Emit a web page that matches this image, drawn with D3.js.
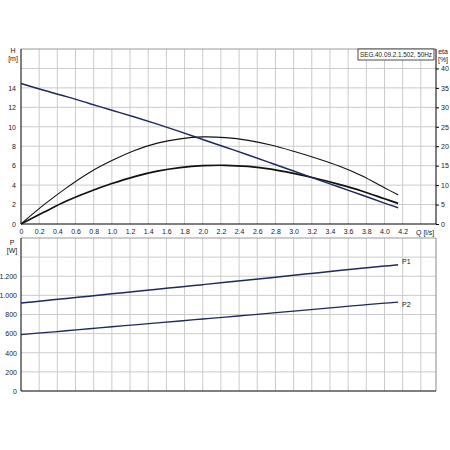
<!DOCTYPE html>
<html>
<head>
<meta charset="utf-8">
<script src="https://cdn.jsdelivr.net/npm/d3@7"></script>
<style>
  body { margin: 0; background: #fff; }
  text { font-family: "Liberation Sans", Arial, sans-serif; font-size: 7px; fill: #1a1a1a; }
  .grid line { stroke: #cbcbcb; stroke-width: 1; }
</style>
</head>
<body>
<svg id="chart" width="450" height="450"></svg>
<script>
// flow points (l/s) for the curves
const flow = [0, 0.25, 0.5, 0.75, 1.0, 1.25, 1.5, 1.75, 2.0, 2.25, 2.5, 2.75, 3.0, 3.25, 3.5, 3.75, 4.0, 4.15]
// head H [m]
const head = [14.45, 13.75, 13.1, 12.4, 11.7, 11.0, 10.27, 9.5, 8.7, 7.9, 7.1, 6.28, 5.45, 4.62, 3.8, 2.98, 2.15, 1.68]
// pump efficiency [%]
const etaPump = [0, 4.9, 9.3, 13.2, 16.3, 18.9, 20.8, 21.9, 22.4, 22.2, 21.5, 20.3, 18.7, 16.9, 14.9, 12.4, 9.3, 7.5]
// total efficiency [%]
const etaTotal = [0, 3.0, 5.9, 8.3, 10.4, 12.2, 13.6, 14.5, 15.0, 15.1, 14.8, 14.1, 13.0, 11.7, 10.2, 8.5, 6.5, 5.3]
// power [W]
const p1 = [920, 944, 968, 992, 1016, 1040, 1064, 1088, 1112, 1136, 1160, 1185, 1210, 1235, 1260, 1284, 1306, 1320]
const p2 = [590, 610, 630, 651, 672, 692, 712, 732, 753, 773, 794, 815, 836, 857, 878, 898, 918, 930]

const qTicks = [0, 0.2, 0.4, 0.6, 0.8, 1.0, 1.2, 1.4, 1.6, 1.8, 2.0, 2.2, 2.4, 2.6, 2.8, 3.0, 3.2, 3.4, 3.6, 3.8, 4.0, 4.2]
const qGrid = qTicks.concat([4.4])
const hTicks = [0, 2, 4, 6, 8, 10, 12, 14]
const hGrid = [2, 4, 6, 8, 10, 12, 14, 16]
const etaTicks = [0, 5, 10, 15, 20, 25, 30, 35, 40]
const pTicks = [0, 200, 400, 600, 800, 1000, 1200]
const pGrid = [200, 400, 600, 800, 1000, 1200, 1400]
const title = 'SEG.40.09.2.1.502, 50Hz'

const svg = d3.select('#chart')
const left = 21
const right = 436

const x = d3.scaleLinear().domain([0, 4.567]).range([left, right])
const yH = d3.scaleLinear().domain([0, 18]).range([224, 49])
const yEta = d3.scaleLinear().domain([0, 45]).range([224, 49])
const yP = d3.scaleLinear().domain([0, 1600]).range([391, 238])

const qFormat = d => d === 0 ? '0' : d3.format('.1f')(d)
const pFormat = d3.formatLocale({ decimal: ',', thousands: '.', grouping: [3], currency: ['', ''] }).format(',d')

/**
 * Draws the grid and the light top border of one panel.
 */
function drawPanel (y, yGrid, top, bottom) {
  const g = svg.append('g').attr('class', 'grid')
  g.selectAll('line.v').data(qGrid.filter(d => d > 0)).join('line')
    .attr('class', 'v')
    .attr('x1', d => x(d)).attr('x2', d => x(d))
    .attr('y1', top).attr('y2', bottom)
  g.selectAll('line.h').data(yGrid).join('line')
    .attr('class', 'h')
    .attr('x1', left).attr('x2', right)
    .attr('y1', d => y(d)).attr('y2', d => y(d))
  svg.append('line')
    .attr('x1', left).attr('x2', right).attr('y1', top).attr('y2', top)
    .attr('stroke', '#9a9a9a')
}

drawPanel(yH, hGrid, 49, 224)
drawPanel(yP, pGrid, 238, 391)

// bottom panel right border
svg.append('line')
  .attr('x1', right).attr('x2', right).attr('y1', 238).attr('y2', 391)
  .attr('stroke', '#8a8a8a')

// axes of top panel
svg.append('g')
  .attr('transform', 'translate(0,224)')
  .call(d3.axisBottom(x).tickValues(qTicks).tickFormat(qFormat).tickSize(0).tickPadding(5))
  .call(g => g.select('.domain').attr('stroke', '#000').attr('d', 'M' + left + ',0H' + right))

svg.append('g')
  .attr('transform', 'translate(' + left + ',0)')
  .call(d3.axisLeft(yH).tickValues(hTicks).tickSize(0).tickPadding(5))
  .call(g => g.select('.domain').attr('stroke', '#000').attr('d', 'M0,224V49'))

svg.append('g')
  .attr('transform', 'translate(' + right + ',0)')
  .call(d3.axisRight(yEta).tickValues(etaTicks).tickSize(3).tickPadding(2))
  .call(g => g.select('.domain').attr('stroke', '#000').attr('d', 'M0,224V49'))

// axes of bottom panel
svg.append('g')
  .attr('transform', 'translate(0,391)')
  .call(d3.axisBottom(x).tickValues([]).tickSize(0))
  .call(g => g.select('.domain').attr('stroke', '#000').attr('d', 'M' + left + ',0H' + right))

svg.append('g')
  .attr('transform', 'translate(' + left + ',0)')
  .call(d3.axisLeft(yP).tickValues(pTicks).tickFormat(pFormat).tickSize(0).tickPadding(4))
  .call(g => g.select('.domain').attr('stroke', '#000').attr('d', 'M0,391V238'))

// axis titles
svg.append('text').attr('x', 13).attr('y', 53).attr('text-anchor', 'middle').text('H')
svg.append('text').attr('x', 13).attr('y', 61).attr('text-anchor', 'middle').text('[m]')
svg.append('text').attr('x', 443).attr('y', 54).attr('text-anchor', 'middle').text('eta')
svg.append('text').attr('x', 443).attr('y', 61.5).attr('text-anchor', 'middle').text('[%]')
svg.append('text').attr('x', 416).attr('y', 234.5).text('Q [l/s]')
svg.append('text').attr('x', 12).attr('y', 245).attr('text-anchor', 'middle').text('P')
svg.append('text').attr('x', 12).attr('y', 253).attr('text-anchor', 'middle').text('[W]')

// curves
const rows = flow.map((q, i) => ({ q: q, h: head[i], e1: etaPump[i], e2: etaTotal[i], p1: p1[i], p2: p2[i] }))

function curve (yScale, key, color, width) {
  svg.append('path')
    .datum(rows)
    .attr('fill', 'none')
    .attr('stroke', color)
    .attr('stroke-width', width)
    .attr('d', d3.line().x(d => x(d.q)).y(d => yScale(d[key])).curve(d3.curveCatmullRom))
}

curve(yEta, 'e1', '#111', 1.1)
curve(yEta, 'e2', '#111', 1.7)
curve(yH, 'h', '#1c2a5e', 1.5)
curve(yP, 'p1', '#1c2a5e', 1.5)
curve(yP, 'p2', '#1c2a5e', 1.3)

const last = rows[rows.length - 1]
svg.append('text').attr('x', x(last.q) + 4).attr('y', yP(last.p1) - 1).text('P1')
svg.append('text').attr('x', x(last.q) + 4).attr('y', yP(last.p2) + 5).text('P2')

// title box
const box = svg.append('g')
box.append('rect')
  .attr('x', 358).attr('y', 49).attr('width', 76).attr('height', 11)
  .attr('fill', '#fff').attr('stroke', '#222').attr('stroke-width', 0.8)
box.append('text')
  .attr('x', 360).attr('y', 57.3)
  .attr('textLength', 72).attr('lengthAdjust', 'spacingAndGlyphs')
  .text(title)
</script>
</body>
</html>
